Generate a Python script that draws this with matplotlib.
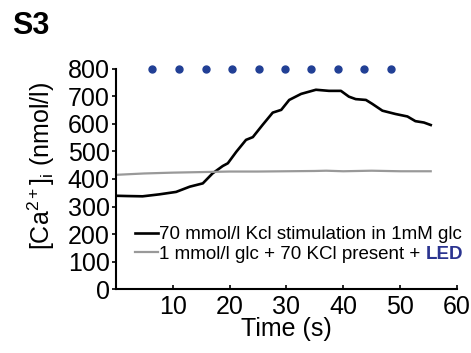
import matplotlib
matplotlib.use('Agg')
import matplotlib.pyplot as plt

plt.rcParams['font.family'] = ['Liberation Sans', 'DejaVu Sans']
plt.rcParams['mathtext.fontset'] = 'custom'
plt.rcParams['mathtext.rm'] = 'Liberation Sans'
plt.rcParams['mathtext.it'] = 'Liberation Sans:italic'

# Datos
t_kcl = [0, 2, 4.7, 7.6, 10.6, 13, 15.3, 17, 18.8, 19.7, 21.2, 22.9, 24.1, 25.8, 27.6,
         29.1, 30.5, 32.6, 35.2, 37.5, 39.6, 41, 42.2, 44, 45.1, 46.9, 49.2, 51.3,
         52.7, 54.2, 55.4]
ca_kcl = [339, 338, 337, 344, 353, 372, 384, 420, 447, 457, 499, 542, 552, 596, 641,
          651, 687, 709, 724, 720, 720, 699, 690, 687, 673, 648, 636, 627,
          610, 605, 596]

t_led = [0, 2, 5, 10, 15, 20, 25, 30, 35, 37, 40, 45, 50, 55.4]
ca_led = [415, 417, 420, 423, 425, 427, 427, 428, 429, 430, 428, 430, 428, 428]

led_pulses = [6.4, 11.1, 15.8, 20.4, 25.1, 29.7, 34.4, 39.1, 43.7, 48.4]
led_level = 800

label_kcl = '70 mmol/l Kcl stimulation in 1mM glc'
label_led = '1 mmol/l glc + 70 KCl present + '

fig = plt.figure(figsize=(4.71, 3.53), dpi=100)
ax = fig.add_axes([0.246, 0.181, 0.724, 0.624])

ax.plot(t_kcl, ca_kcl, color='black', lw=1.9, label=label_kcl)
ax.plot(t_led, ca_led, color='#999999', lw=1.6, label=label_led)
ax.plot(led_pulses, [led_level] * len(led_pulses), 'o', color='#213f95',
        ms=5, clip_on=False, linestyle='none')

ax.set_xlim(0, 60)
ax.set_ylim(0, 800)
ax.set_xticks([10, 20, 30, 40, 50, 60])
ax.set_yticks(range(0, 801, 100))

for s in ['top', 'right']:
    ax.spines[s].set_visible(False)
ax.spines['left'].set_linewidth(1.5)
ax.spines['bottom'].set_linewidth(1.5)
ax.tick_params(axis='both', labelsize=18, width=1.2, length=3)
ax.tick_params(axis='y', direction='out', pad=1.5)
ax.tick_params(axis='x', direction='in', pad=4)

ax.set_xlabel('Time (s)', fontsize=18, labelpad=-1)
ax.set_ylabel('[Ca$^{2+}$]$_\\mathregular{i}$ (nmol/l)', fontsize=18)
ax.yaxis.set_label_coords(-0.172, 0.56)

leg = ax.legend(loc='lower left', bbox_to_anchor=(0.055, 0.12), frameon=False,
                fontsize=13.5, handlelength=1.25, handletextpad=0.05,
                labelspacing=0.12, borderpad=0, borderaxespad=0)

# Palabra LED en azul y negrita despues de la segunda etiqueta
ax.annotate('LED', xy=(1, 0), xycoords=leg.get_texts()[1], va='bottom', ha='left',
            fontsize=13.5, fontweight='bold', color='#2b3490', zorder=10)

fig.text(0.025, 0.905, 'S3', fontsize=22, fontweight='bold')

plt.savefig('out.png', dpi=100)
